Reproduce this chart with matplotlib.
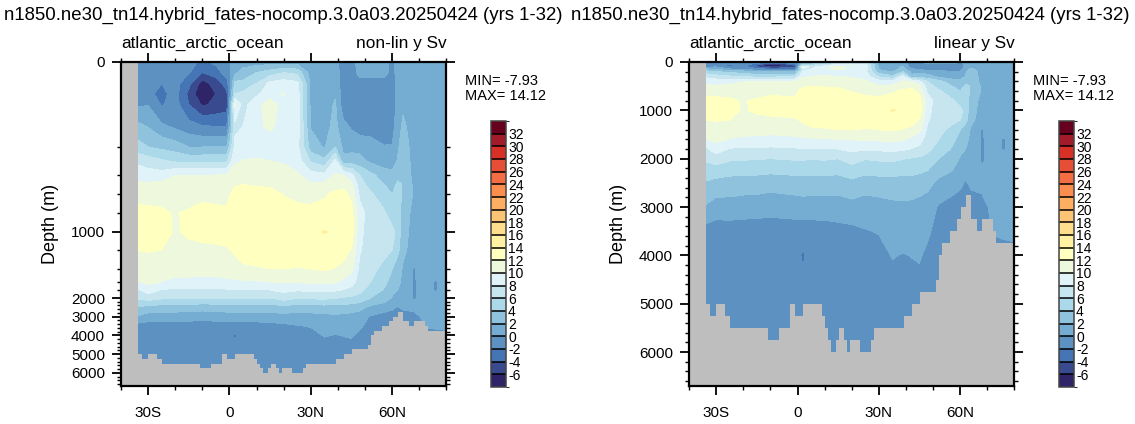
import numpy as np
import matplotlib
matplotlib.use("Agg")
from matplotlib import pyplot as plt
from matplotlib.colors import ListedColormap, BoundaryNorm

plt.rcParams['font.family'] = ['Liberation Sans', 'DejaVu Sans']
plt.rcParams['axes.unicode_minus'] = False

title = "n1850.ne30_tn14.hybrid_fates-nocomp.3.0a03.20250424 (yrs 1-32)"
region = "atlantic_arctic_ocean"
min_text = "MIN= -7.93"
max_text = "MAX= 14.12"

# latitude columns and depth rows of the streamfunction table (Sv)
lat = [-34, -30, -25, -20, -15, -10, -5, -1, 2, 5, 10, 15, 20, 25, 30, 35, 39, 42, 45, 48, 52, 57, 60, 62, 64, 68, 72, 76, 80]
depth = [0, 25, 50, 75, 100, 150, 200, 300, 400, 500, 600, 800, 1000, 1200, 1400, 1600, 1800, 2000, 2500, 3000, 3500, 4000, 5000, 6000]

moc = np.array([
    [-1, -1, -1, -1, -1.2, -2.5, -1.5, -0.5, 0.5, 1, 1, 1, 1, 1, 0.5, 1, 0.5, -1, -0.5, 0.5, 0.5, 0.5, -0.5, 0.5, 1, 1, 1, 1, 0.5],
    [-1, -1, -1.2, -1, -1.8, -4, -3, -1, 1.5, 2.8, 4, 5, 6, 5.5, 1, 1, 1, -1, -0.8, 0.5, 0.5, 0.5, -0.5, 0.5, 1, 1, 1, 1, 0.8],
    [-1.2, -1.3, -2, -1.2, -3.5, -6.8, -5.2, -3, 4.5, 4.5, 6, 8.5, 9, 8.5, 1.5, 1.1, 1.2, -1, -1, -0.5, -0.5, -0.5, -1, 0.6, 1, 1, 1, 1, 0.8],
    [-1.5, -1.5, -2.6, -1.2, -4.5, -7.93, -5.95, -4.5, 6, 6.5, 7.5, 9.5, 10.1, 9, 1.5, 1.1, 1.8, -1.2, -1.2, -1, -1, -1, -1, 0.6, 1.2, 1, 1, 1, 0.8],
    [-0.3, -0.1, -2.2, -1.2, -4, -6.3, -5.6, -5, 10.3, 7, 9.7, 10.5, 9.6, 9, 1.5, 1.2, 2.2, -1.2, -1.2, -1, -1, -1, -1, 0.7, 1.6, 1, 1, 1, 0.8],
    [2.5, 1.8, 0.3, -0.5, -1.3, -2, -2.1, -2.1, 7.5, 8, 9.8, 10.2, 9.6, 9.1, 1.8, 1.4, 2.5, 0.5, -0.3, -1, -1, -1, -0.8, 1, 2.4, 1, 1, 1, 0.3],
    [4.8, 4, 3.5, 3, 2, 2, 2.2, 2, 8.5, 8.8, 9.2, 9.5, 9.2, 8.6, 3, 1.8, 4, 1.5, 1.3, 1.2, 0.9, 0.1, 0.1, 1.7, 3, 1.2, 1.1, 1, 1],
    [7.5, 7, 6.3, 5.7, 5.5, 5.5, 5.6, 5.7, 9.7, 10.1, 10.2, 10, 9.8, 9, 5.7, 4.5, 8.5, 2.5, 3, 2.8, 1.6, 0.9, 0.6, 2.2, 3.2, 1.3, 1.2, 1, 1],
    [9.3, 8.9, 8.8, 9.9, 9.9, 10, 10, 10.1, 11, 11, 11, 11, 10.8, 10.3, 8.8, 8.5, 10.2, 10, 8.5, 6, 4.5, 3, 2.8, 3.5, 3.7, 1.3, 1.2, 1, 1],
    [10.3, 10.3, 10.7, 10.9, 11, 11, 11, 10.9, 11.8, 12, 11.9, 11.8, 11.4, 11, 10.3, 10.5, 11.4, 11.5, 10.6, 6.8, 5.3, 4, 3.4, 4.3, 3.9, 1.6, 1.2, 1.1, 1],
    [11.4, 11.4, 11.5, 11.3, 11.3, 11.6, 11.5, 11.5, 12.6, 12.4, 12.4, 12.4, 11.9, 11.5, 11.2, 11.8, 12.3, 12.5, 11.5, 7.5, 6.3, 4.7, 4, 5, 3.6, 1.8, 1.2, 1.1, 1],
    [12.5, 12.4, 12.2, 11.9, 12.2, 12.5, 12.4, 12.3, 13, 13, 12.9, 12.7, 12.8, 12.6, 12.6, 12.6, 13, 13.2, 12.6, 9, 6.8, 6.3, 5, 5, 3, 1.4, 1.2, 1, 0.8],
    [13, 12.8, 12.6, 11.8, 12.3, 12.7, 12.8, 12.8, 13.3, 13.4, 13.4, 13.4, 13.3, 13.2, 13.2, 14.12, 13.7, 13.6, 13, 8.5, 7, 7, 6.5, 5.5, 2.5, 1.5, 1.2, 1, 1],
    [12, 12.2, 12, 11.6, 11.5, 11.5, 11.6, 11.8, 12.2, 12.5, 12.5, 12.6, 12.7, 12.8, 12.8, 12.9, 12.9, 12.8, 11.8, 8.2, 7, 6.5, 6, 4.5, 2.5, 1, 1.2, 1, 1],
    [11, 10.6, 11, 11, 11, 10.7, 10.8, 11.2, 11.5, 11.8, 11.9, 12, 12, 11.9, 12, 12.2, 11.9, 11.5, 10.5, 7.5, 6.5, 5.5, 4, 3, 1.7, -0.2, 1.2, 0.8, 1],
    [9.8, 10.5, 9.9, 9.5, 9.4, 9.4, 9.4, 9.5, 9.6, 9.7, 9.8, 10, 10.1, 10.2, 10.3, 10.5, 10.2, 9.5, 8.7, 7.2, 6, 4.5, 3.3, 2.5, 1.5, -0.2, 0.8, -0.2, 1],
    [7.5, 9, 7.8, 7.7, 7.8, 7.6, 7.7, 7.8, 7.9, 7.9, 7.9, 8, 8.5, 8.2, 8.4, 8.5, 8.3, 7.9, 7.5, 6.5, 5.2, 3.8, 2.5, 2, 1.3, -0.2, 0.7, -0.2, 1],
    [6.3, 6.9, 6.3, 6.2, 6.1, 6, 6.1, 6.2, 6.2, 6.1, 6.2, 6, 6.8, 6.1, 6.3, 6.4, 6.1, 5.8, 5.6, 5.3, 4, 3.2, 1.8, 1.3, 0.9, -0.2, 0.5, 0.8, 1],
    [3.8, 3.3, 3.1, 3, 3, 2.8, 2.9, 3, 3.1, 3, 3, 3, 3.4, 3, 3.1, 3.2, 3, 3.2, 3, 2.6, 1.5, 0.8, 0.4, -0.2, 0.4, 0.5, 0.6, 0.5, 1],
    [1.8, 1.1, 1.2, 1, 0.9, 0.7, 0.9, 1, 1.1, 1.1, 1.1, 1, 1.3, 1, 1.2, 1.5, 1.6, 1.5, 1.2, 1, -0.2, -0.7, -1, -1.2, -1, -0.6, 0.4, 0.6, 1],
    [-0.8, -1, -1, -1, -1, -1, -1, -1, -1, -1, -0.9, -0.6, -0.5, -0.1, 0.1, 0.5, 0.9, 0.8, 0.7, 0.4, -1, -1.2, -1.2, -1.2, -1, -1, 0.2, 0.5, 0.8],
    [-1.2, -1.2, -1.2, -1.2, -1.2, -1.2, -1.2, -1.2, -2.3, -1.2, -1.2, -1.2, -1.2, -1, -0.6, 0.1, -0.1, 0.05, 0.2, -0.5, -1, -1, -1, -1, -1, -1, -1, -1, -1],
    [-1, -1, -1, -1, -1, -1, -1, -1, -1, -1, -1, -1, -1, -1, -1, -1, -1, -1, -1, -1, -1, -1, -1, -1, -1, -1, -1, -1, -1],
    [-1, -1, -1, -1, -1, -1, -1, -1, -1, -1, -1, -1, -1, -1, -1, -1, -1, -1, -1, -1, -1, -1, -1, -1, -1, -1, -1, -1, -1],
])

# ocean floor, one depth per latitude step
floor_lat = [-40, -33.9, -32.1, -29.9, -26.9, -24.9, -10.9, -6.8, -2.8, -0.9, 2.1, 9.1, 10.1, 11.1, 12.2, 14.1, 15.2, 17.1, 18.1, 19.2,
             23.2, 27.2, 28.1, 39.2, 42.3, 45.3, 51.1, 52.1, 53.3, 56.1, 58.8, 60.1, 62.3, 64.1, 66, 68.1, 72, 73, 80]
floor_depth = [0, 5000, 5250, 5000, 5250, 5500, 5750, 5500, 5000, 5250, 5000, 5250, 5500, 5750, 6000, 5750, 5500, 5750, 6000, 5750,
               6000, 5750, 5500, 5250, 5000, 4750, 4500, 4000, 3750, 3500, 3250, 3000, 2750, 3250, 3500, 3250, 3500, 3750, 3750]

levels = np.arange(-8, 36, 2)
colors_ = ["#2f2468", "#3a4a8e", "#4575b4", "#5c91c2", "#74add1", "#8fc3dd", "#abd9e9", "#c6e5ef", "#e0f3f8", "#eef8dc", "#ffffbf",
           "#fff0a2", "#fedd8c", "#fec476", "#fdae61", "#fb8d4e", "#f46d43", "#e64f35", "#d73027", "#a11b2a", "#67001f"]
cmap_ = ListedColormap(colors_)
norm_ = BoundaryNorm(levels, cmap_.N)

# non-linear depth axis of the left panel, depth against pixels below the top
scale_depth = [0, 200, 400, 600, 800, 1000, 1200, 1400, 1600, 1800, 2000, 6700]
scale_pix = [0, 85, 113, 132, 151, 170, 188, 207, 220, 228, 236, 324]

W, H = 1135, 424
fig = plt.figure(figsize=(W / 100, H / 100), dpi=100)


def to_axes(v):
    return np.interp(v, scale_depth, scale_pix)


def from_axes(v):
    return np.interp(v, scale_pix, scale_depth)


def draw_panel(x0, right_text, nonlin):
    ax = fig.add_axes([x0 / W, 1 - 386 / H, 325.5 / W, 324 / H])
    cf = ax.contourf(lat, depth, moc, levels=levels, cmap=cmap_, norm=norm_)
    ax.fill_between(floor_lat, floor_depth, 6700, step='post', color="#bebebe", lw=0)
    if nonlin:
        ax.set_yscale('function', functions=(to_axes, from_axes))
    major = [0, 1000, 2000, 3000, 4000, 5000, 6000]
    minor = [d for d in range(200, 6800, 200) if d % 1000 != 0]
    ax.set_xlim(-40, 80)
    ax.set_ylim(6700, 0)
    ax.set_yticks(major)
    ax.set_yticks(minor, minor=True)
    ax.set_yticklabels([str(d) for d in major])
    ax.set_xticks([-30, 0, 30, 60])
    ax.set_xticks([-40, -20, -10, 10, 20, 40, 50, 70, 80], minor=True)
    ax.set_xticklabels(["30S", "0", "30N", "60N"])
    ax.tick_params(which='major', direction='out', length=6.5, width=1.3, labelsize=11,
                   top=True, right=True, pad=5)
    ax.tick_params(which='minor', direction='out', length=3.2, width=1, top=True, right=True)
    ax.tick_params(axis='x', which='major', pad=8)
    for s in ax.spines.values():
        s.set_linewidth(1.6)
    ax.set_ylabel("Depth (m)", fontsize=13, labelpad=9)
    ax.text(0, 1.035, region, transform=ax.transAxes, fontsize=12.4, ha='left', va='bottom')
    ax.text(1, 1.035, right_text, transform=ax.transAxes, fontsize=12.4, ha='right', va='bottom')

    # min / max note and colour bar sit right of the frame
    fig.text((x0 + 344) / W, 1 - 81 / H, min_text, fontsize=10.5, va='center')
    fig.text((x0 + 344) / W, 1 - 96 / H, max_text, fontsize=10.5, va='center')
    cax = fig.add_axes([(x0 + 370) / W, 1 - 387 / H, 15 / W, 266 / H])
    cb = fig.colorbar(cf, cax=cax, ticks=levels[1:-1], drawedges=True)
    cb.ax.tick_params(length=0, labelsize=10, pad=1.5)
    cb.dividers.set_linewidth(1.1)
    cb.outline.set_linewidth(1.1)
    cb.outline.set_edgecolor("#444444")


draw_panel(121, "non-lin y Sv", True)
draw_panel(689, "linear y Sv", False)

fig.text(4 / W, 1 - 15 / H, title, fontsize=13.4, va='center')
fig.text(571 / W, 1 - 15 / H, title, fontsize=13.4, va='center')

fig.savefig("out.png", dpi=100)
